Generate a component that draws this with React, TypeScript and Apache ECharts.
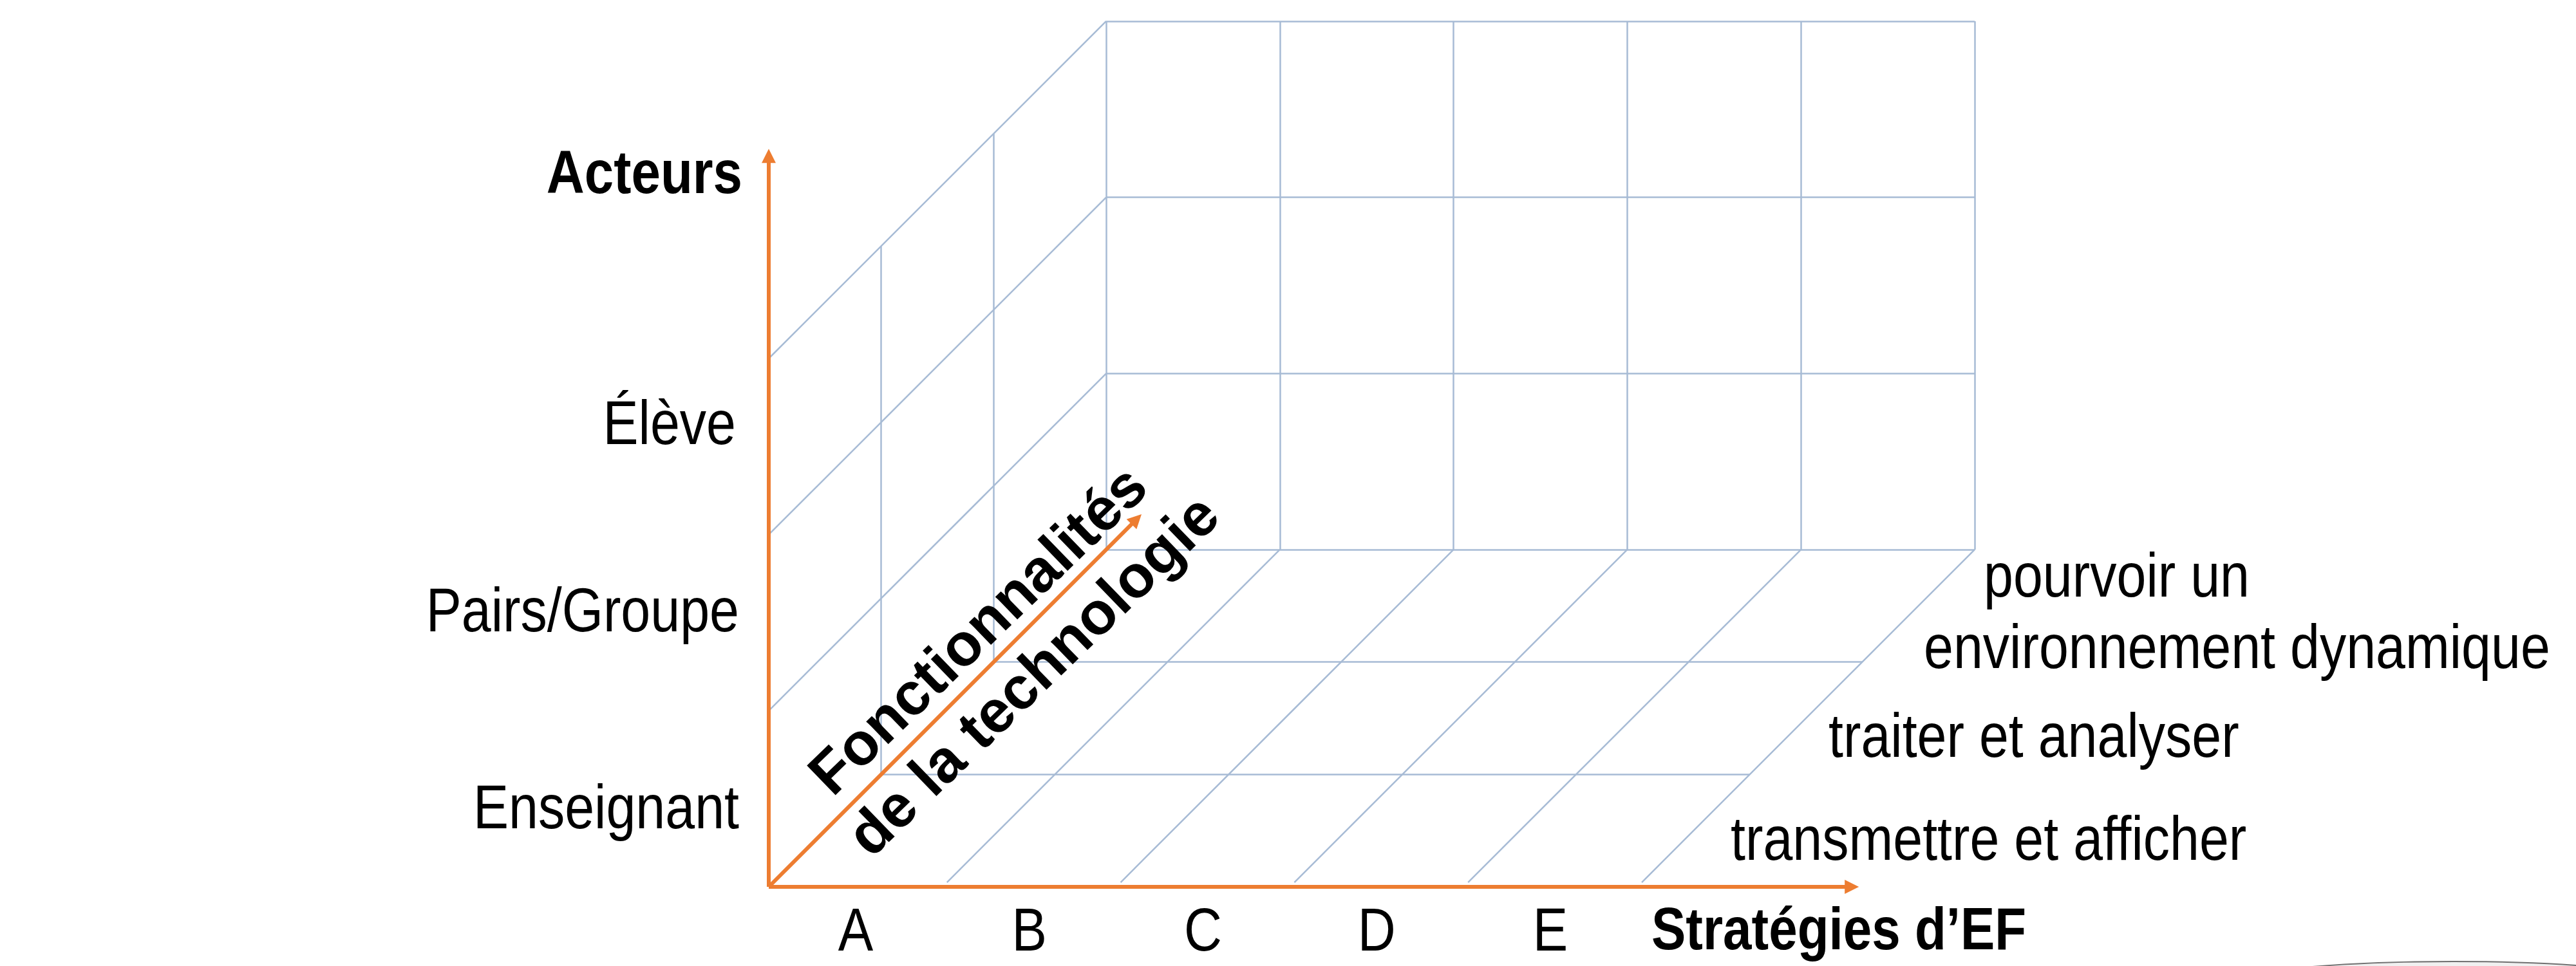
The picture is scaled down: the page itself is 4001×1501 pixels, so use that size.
import React, { useEffect, useRef } from "react";
import * as echarts from "echarts";

// ---- Data (categories of the three dimensions) ----
const strategies = ["A", "B", "C", "D", "E"];
const actors = ["Enseignant", "Pairs/Groupe", "Élève"];
const functionalities = [
  ["transmettre et afficher"],
  ["traiter et analyser"],
  ["pourvoir un", "environnement dynamique"],
];
const titleX = "Stratégies d’EF";
const titleY = "Acteurs";
const titleZ = ["Fonctionnalités", "de la technologie"];

// ---- Layout ----
const W = 4001;
const H = 1501;
const GRID = { left: 1194, top: 557, width: 1349, height: 821 };
const DZX = 0.6475; // x-units per depth unit
const DZY = 0.6383; // y-units per depth unit
const NX = strategies.length;
const NY = actors.length;
const NZ = functionalities.length;
const GRID_COLOR = "#A7BBD5";
const ORANGE = "#ED7D31";
const FONT = "'Liberation Sans', Arial, Helvetica, sans-serif";
const SQUEEZE = 0.86;

const P = (x: number, y: number, z: number) => [x + z * DZX, y + z * DZY];

function gridSegments() {
  const segs: number[][][] = [];
  // back wall
  for (let i = 0; i <= NX; i++) segs.push([P(i, 0, NZ), P(i, NY, NZ)]);
  for (let j = 0; j <= NY; j++) segs.push([P(0, j, NZ), P(NX, j, NZ)]);
  // left wall
  for (let d = 1; d < NZ; d++) segs.push([P(0, 0, d), P(0, NY, d)]);
  for (let j = 1; j <= NY; j++) segs.push([P(0, j, 0), P(0, j, NZ)]);
  // floor
  for (let i = 1; i <= NX; i++) segs.push([P(i, 0, 0.04), P(i, 0, NZ)]);
  for (let d = 1; d < NZ; d++) segs.push([P(0, 0, d), P(NX, 0, d)]);
  return segs;
}

// arrow ends (axis units)
const X_ARROW_END = 6.235;
const Y_ARROW_END = 4.15;
const Z_ARROW_END = 3.27;

export default function App() {
  const ref = useRef<HTMLDivElement>(null);
  useEffect(() => {
    const chart = echarts.init(ref.current!, null, { renderer: "svg" });
    chart.setOption({
      animation: false,
      backgroundColor: "#ffffff",
      grid: { ...GRID, containLabel: false },
      xAxis: { type: "value", min: 0, max: NX, show: false },
      yAxis: { type: "value", min: 0, max: NY, show: false },
      series: [
        {
          type: "lines",
          coordinateSystem: "cartesian2d",
          clip: false,
          silent: true,
          symbol: "none",
          lineStyle: { color: GRID_COLOR, width: 2.5, opacity: 1 },
          data: gridSegments().map((c) => ({ coords: c })),
          z: 2,
        },
        {
          type: "lines",
          coordinateSystem: "cartesian2d",
          clip: false,
          silent: true,
          symbol: ["none", "triangle"],
          symbolSize: 22,
          lineStyle: { color: ORANGE, width: 6, opacity: 1 },
          itemStyle: { color: ORANGE },
          data: [
            { coords: [P(0, 0, 0), [X_ARROW_END, 0]] },
            { coords: [P(0, 0, 0), [0, Y_ARROW_END]] },
            { coords: [P(0, 0, 0), P(0, 0, Z_ARROW_END)] },
          ],
          z: 3,
        },
      ],
    });

    const px = (p: number[]) => chart.convertToPixel({ gridIndex: 0 }, p) as number[];
    const o = px([0, 0]);

    const text = (
      t: string,
      x: number,
      y: number,
      align: string,
      size: number,
      bold = false
    ) => ({
      type: "text",
      x,
      y,
      scaleX: SQUEEZE,
      z: 10,
      style: {
        text: t,
        fill: "#000000",
        fontFamily: FONT,
        fontSize: size,
        fontWeight: bold ? "bold" : "normal",
        textAlign: align,
        textVerticalAlign: "middle",
      },
    });

    const actorY = [1254, 948, 657];
    const actorRight = [1148, 1148, 1143];
    const funcPos = [
      [[2688, 1303]],
      [[2840, 1143]],
      [
        [3081, 894],
        [2988, 1005],
      ],
    ];

    const graphics: any[] = [];
    strategies.forEach((s, i) => {
      const c = px([i + 0.5, 0]);
      graphics.push(text(s, c[0], 1444, "center", 95));
    });
    actors.forEach((a, j) => graphics.push(text(a, actorRight[j], actorY[j], "right", 96)));
    graphics.push(text(titleY, o[0] - 41, 267, "right", 95, true));
    graphics.push(text(titleX, 2565, 1442, "left", 93, true));
    functionalities.forEach((lines, k) =>
      lines.forEach((l, m) => graphics.push(text(l, funcPos[k][m][0], funcPos[k][m][1], "left", 96)))
    );
    // depth-axis title, rotated along the depth arrow
    const rot = (44 * Math.PI) / 180;
    const zPos = [
      [1518, 978],
      [1604, 1048],
    ];
    titleZ.forEach((t, k) =>
      graphics.push({
        type: "text",
        x: zPos[k][0],
        y: zPos[k][1],
        rotation: rot,
        z: 10,
        style: {
          text: t,
          fill: "#000",
          fontFamily: FONT,
          fontSize: 93,
          fontWeight: "bold",
          textAlign: "center",
          textVerticalAlign: "middle",
        },
      })
    );
    graphics.push({
      type: "ellipse",
      shape: { cx: 3810, cy: 1544, rx: 400, ry: 50 },
      z: 1,
      style: { fill: "#f0f0f0", stroke: "#707070", lineWidth: 2 },
    });
    chart.setOption({ graphic: graphics });

    return () => chart.dispose();
  }, []);
  return (
    <div
      ref={ref}
      style={{ position: "absolute", left: 0, top: 0, width: W, height: H, background: "#fff" }}
    />
  );
}
